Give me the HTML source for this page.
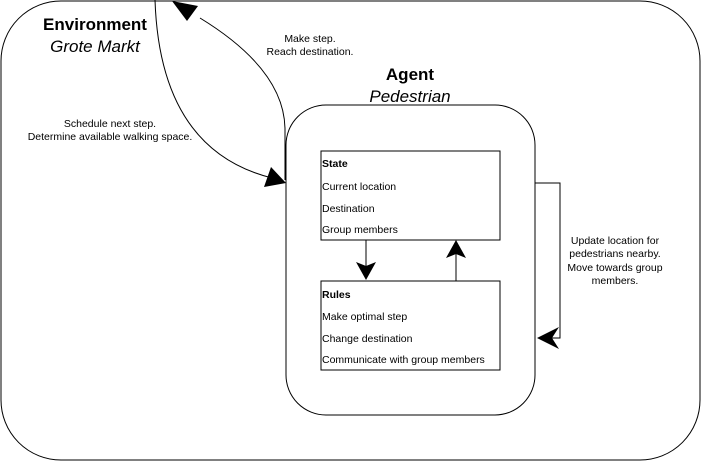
<!DOCTYPE html>
<html><head><style>
body{margin:0;width:701px;height:461px;background:#fff;overflow:hidden}
svg{font-family:"Liberation Sans",sans-serif}
</style></head><body>
<svg width="701" height="461" viewBox="0 0 701 461">
<rect x="1" y="1" width="699" height="459" rx="60" ry="60" fill="#fff" stroke="#000" stroke-width="1"/>
<text x="95" y="30" font-size="17" font-weight="bold" text-anchor="middle">Environment</text>
<text x="95" y="52" font-size="17" font-style="italic" text-anchor="middle">Grote Markt</text>
<rect x="286" y="105" width="249" height="310" rx="40" ry="40" fill="#fff" stroke="#000"/>
<text x="410" y="80" font-size="17" font-weight="bold" text-anchor="middle">Agent</text>
<text x="410" y="102" font-size="17" font-style="italic" text-anchor="middle">Pedestrian</text>
<rect x="321" y="151" width="179" height="89" fill="#fff" stroke="#000"/>
<g font-size="10.5">
<text x="322" y="167" font-weight="bold">State</text>
<text x="322" y="190">Current location</text>
<text x="322" y="212">Destination</text>
<text x="322" y="233">Group members</text>
</g>
<rect x="321" y="281" width="179" height="89" fill="#fff" stroke="#000"/>
<g font-size="10.5">
<text x="322" y="298" font-weight="bold">Rules</text>
<text x="322" y="320">Make optimal step</text>
<text x="322" y="342">Change destination</text>
<text x="322" y="363">Communicate with group members</text>
</g>
<path d="M155 0 Q160 150 272 178" fill="none" stroke="#000"/>
<polygon points="286,183 264,187 271,167" fill="#000"/>
<path d="M285 180 L285 130 Q285 70 200 18" fill="none" stroke="#000"/>
<polygon points="172,1 198,6 187,21" fill="#000"/>
<line x1="366" y1="240" x2="366" y2="266" stroke="#000"/>
<polygon points="366,280 356,262 366,266 376,262" fill="#000"/>
<line x1="456" y1="281" x2="456" y2="254" stroke="#000"/>
<polygon points="456,240 446,258 456,254 466,258" fill="#000"/>
<path d="M535 183 L560 183 L560 338 L552 338" fill="none" stroke="#000"/>
<polygon points="537,338 559,327 552,338 559,349" fill="#000"/>
<g font-size="10.5" text-anchor="middle">
<text x="310" y="42">Make step.</text>
<text x="310" y="55">Reach destination.</text>
<text x="110" y="127">Schedule next step.</text>
<text x="110" y="140">Determine available walking space.</text>
<text x="615" y="244">Update location for</text>
<text x="615" y="257">pedestrians nearby.</text>
<text x="615" y="271">Move towards group</text>
<text x="615" y="284">members.</text>
</g>
</svg>
</body></html>
